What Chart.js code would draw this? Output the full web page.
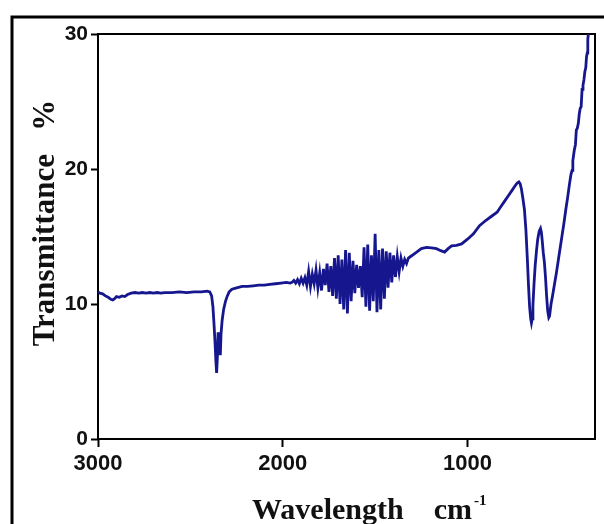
<!DOCTYPE html>
<html>
<head>
<meta charset="utf-8">
<script src="https://cdn.jsdelivr.net/npm/chart.js@4.4.1/dist/chart.umd.min.js"></script>
<style>
  html, body { margin: 0; padding: 0; background: #fff; }
  #wrap { width: 604px; height: 524px; }
</style>
</head>
<body>
<div id="wrap"><canvas id="irChart" width="604" height="524"></canvas></div>
<script>
// FTIR spectrum, values (cm-1 -> %T)
const wavenumbers = [
  3000, 2990, 2975, 2960, 2945, 2930, 2920, 2910, 2900, 2885, 2870, 2855, 2840, 2820, 2800,
  2780, 2760, 2740, 2720, 2700, 2680, 2660, 2640, 2600, 2560, 2520, 2480, 2440, 2410, 2395,
  2385, 2378, 2372, 2366, 2362, 2358, 2354, 2350, 2346, 2342, 2338, 2334, 2328, 2320, 2310,
  2300, 2290, 2275, 2250, 2220, 2190, 2160, 2130, 2100, 2070, 2040, 2010, 1980, 1960,
  1950, 1940, 1930, 1920, 1910, 1900, 1890, 1880, 1870, 1860, 1850, 1840, 1830, 1820, 1810,
  1800, 1790, 1780, 1770, 1760, 1750, 1740, 1730, 1720, 1710, 1700, 1690, 1680, 1670, 1660,
  1650, 1640, 1630, 1620, 1610, 1600, 1590, 1580, 1570, 1560, 1550, 1540, 1530, 1520, 1510,
  1500, 1490, 1480, 1470, 1460, 1450, 1440, 1430, 1420, 1410, 1400, 1390, 1380, 1370, 1360,
  1350, 1340, 1330, 1320,
  1310, 1290, 1270, 1250, 1222, 1195, 1168, 1145, 1124, 1105, 1086, 1060, 1032, 1000, 968,
  935, 900, 870, 840, 820, 800, 780, 760, 745, 735, 728, 722, 715, 708, 700,
  692, 684, 676, 670, 664, 658, 654, 650, 646, 640, 634, 627, 620, 612, 605,
  600, 595, 590, 584, 578, 572, 566, 560, 556, 548, 540, 530, 519, 508, 498,
  488, 478, 468, 458, 448, 440, 434, 430, 422, 416, 411, 406, 400, 395, 390,
  385, 380, 375, 370, 365, 360, 356, 352, 349, 346
]
const transmittance = [
  10.9, 10.8, 10.75, 10.6, 10.5, 10.35, 10.3, 10.4, 10.55, 10.5, 10.6, 10.55, 10.7, 10.8, 10.85,
  10.8, 10.85, 10.8, 10.85, 10.8, 10.85, 10.8, 10.85, 10.85, 10.9, 10.85, 10.9, 10.9, 10.95, 10.9,
  10.6, 9.8, 8.5, 7.0, 5.8, 4.9, 6.0, 7.9, 6.6, 7.4, 6.2, 7.8, 8.8, 9.6, 10.2,
  10.6, 10.9, 11.1, 11.2, 11.3, 11.3, 11.35, 11.4, 11.4, 11.45, 11.5, 11.55, 11.6, 11.55,
  11.6, 11.75, 11.55, 11.8, 11.5, 11.9, 11.55, 11.95, 11.4, 12.4, 11.3, 12.2, 11.5, 12.5, 11.2,
  12.3, 11.0, 12.6, 11.4, 13.0, 10.9, 12.8, 10.6, 13.4, 10.4, 13.6, 10.0, 13.3, 9.6, 14.0,
  9.3, 13.8, 10.2, 13.2, 10.8, 12.9, 11.2, 12.8, 10.5, 14.2, 9.8, 14.4, 9.5, 13.6, 10.2,
  15.2, 9.4, 14.0, 9.6, 14.1, 10.4, 13.9, 11.2, 13.8, 11.6, 13.6, 12.0, 13.5, 12.4, 13.4,
  12.8, 13.3, 13.0, 13.4,
  13.5, 13.7, 13.9, 14.1, 14.2, 14.15, 14.1, 13.95, 13.85, 14.1, 14.3, 14.35, 14.45, 14.8, 15.2,
  15.8, 16.2, 16.5, 16.8, 17.2, 17.6, 18.0, 18.4, 18.7, 18.9, 19.0, 19.05, 18.9, 18.5, 17.8,
  17.0, 15.5, 13.3, 11.4, 9.8, 8.9, 8.6, 8.9, 9.9, 11.5, 12.8, 13.9, 14.8, 15.4, 15.6,
  15.3, 14.6, 13.8, 13.1, 12.0, 10.6, 9.5, 9.0, 9.1, 10.0, 10.6, 11.4, 12.3, 13.3, 14.2,
  15.1, 16.0, 17.0, 17.9, 18.9, 19.6, 19.9, 20.6, 21.4, 21.8, 22.9, 23.0, 23.4, 24.1, 24.5,
  24.6, 25.9, 26.2, 26.6, 27.2, 27.5, 28.3, 28.6, 29.6, 30.0
]
const xTicks = [1000, 2000, 3000]
const yTicks = [0, 10, 20, 30]

const points = wavenumbers.map((w, i) => ({ x: w, y: transmittance[i] }))

const frames = {
  id: 'frames',
  beforeDatasetsDraw(chart) {
    const { ctx, chartArea: a } = chart
    ctx.save()
    ctx.strokeStyle = '#000'
    ctx.lineWidth = 2
    ctx.strokeRect(a.left, a.top, a.right - a.left, a.bottom - a.top)
    // outer picture frame
    ctx.lineWidth = 3
    ctx.strokeRect(12, 17, 800, 800)
    ctx.restore()
  },
  afterDraw(chart) {
    const { ctx } = chart
    ctx.save()
    ctx.fillStyle = '#111'
    // y title
    ctx.font = 'bold 31px "Liberation Serif", "Times New Roman", serif'
    ctx.translate(46, 223)
    ctx.rotate(-Math.PI / 2)
    ctx.textAlign = 'center'
    ctx.textBaseline = 'middle'
    ctx.fillText('Transmittance   %', 0, 0)
    ctx.restore()

    ctx.save()
    ctx.fillStyle = '#111'
    ctx.font = 'bold 30px "Liberation Serif", "Times New Roman", serif'
    ctx.textAlign = 'left'
    ctx.textBaseline = 'alphabetic'
    const main = 'Wavelength    cm'
    ctx.fillText(main, 252, 519)
    const w = ctx.measureText(main).width
    ctx.font = 'bold 15px "Liberation Serif", "Times New Roman", serif'
    ctx.fillText('-1', 252 + w + 2, 505)
    ctx.restore()
  }
}

new Chart(document.getElementById('irChart'), {
  type: 'line',
  data: {
    datasets: [
      {
        label: 'IR',
        data: points,
        borderColor: '#16168e',
        backgroundColor: '#16168e',
        borderWidth: 2.8,
        pointRadius: 0,
        tension: 0,
      },
    ],
  },
  options: {
    responsive: false,
    animation: false,
    devicePixelRatio: 1,
    layout: { padding: { left: 0, top: 34, right: 9, bottom: 0 } },
    plugins: {
      legend: { display: false },
      tooltip: { enabled: false },
    },
    scales: {
      x: {
        type: 'linear',
        reverse: true,
        min: 310,
        max: 3000,
        afterBuildTicks: (scale) => {
          scale.ticks = xTicks.map((v) => ({ value: v }))
        },
        afterFit: (scale) => {
          scale.height = 85
        },
        border: { display: false },
        grid: {
          drawOnChartArea: false,
          drawTicks: true,
          tickLength: 8,
          tickWidth: 2,
          tickColor: '#000',
        },
        ticks: {
          color: '#111',
          padding: 4,
          maxRotation: 0,
          callback: (v) => String(v),
          font: { family: '"Liberation Sans", Arial, sans-serif', size: 22, weight: 'bold' },
        },
      },
      y: {
        min: 0,
        max: 30,
        afterBuildTicks: (scale) => {
          scale.ticks = yTicks.map((v) => ({ value: v }))
        },
        afterFit: (scale) => {
          scale.width = 98
        },
        border: { display: false },
        grid: {
          drawOnChartArea: false,
          drawTicks: true,
          tickLength: 7,
          tickWidth: 2,
          tickColor: '#000',
        },
        ticks: {
          color: '#111',
          padding: 3,
          callback: (v) => String(v),
          font: { family: '"Liberation Sans", Arial, sans-serif', size: 21, weight: 'bold' },
        },
      },
    },
  },
  plugins: [frames],
})
</script>
</body>
</html>
